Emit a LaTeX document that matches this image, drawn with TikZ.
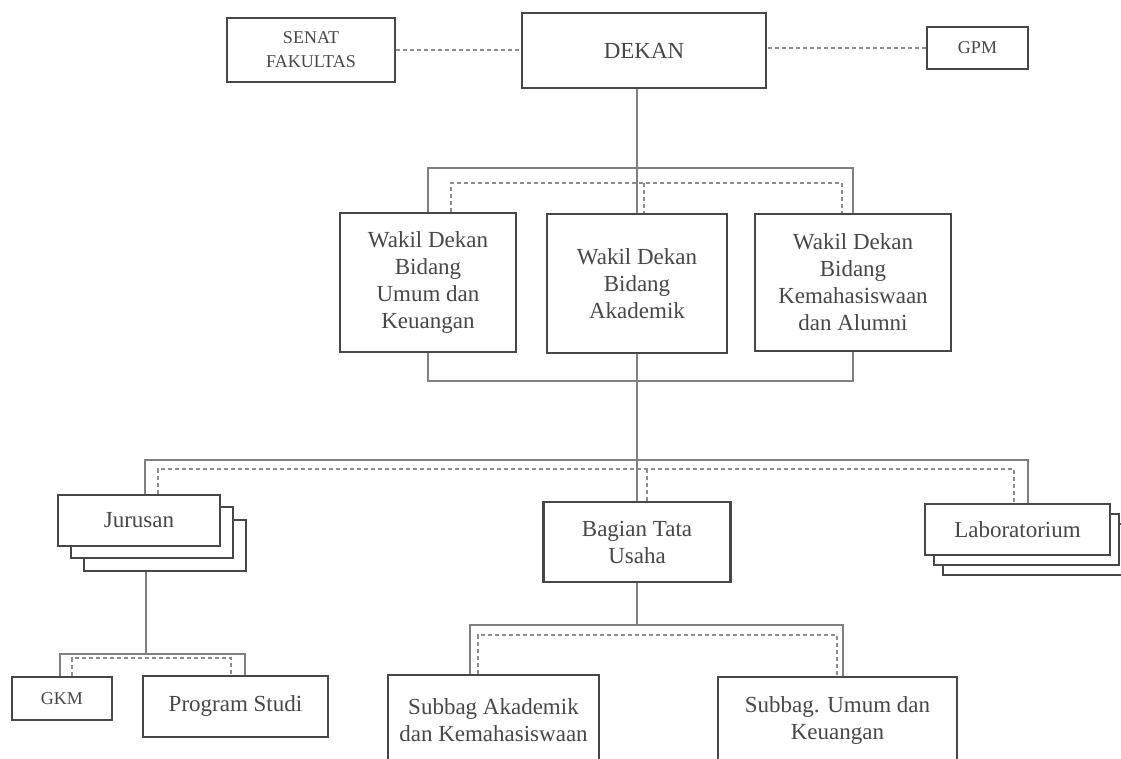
\documentclass[tikz,border=0pt]{standalone}
\usepackage{fontspec}
\setmainfont{Liberation Serif}

\begin{document}
\begin{tikzpicture}[
    x=0.5pt, y=-0.5pt,
    unit/.style={
      draw=black!72,
      line width=1.1pt,
      fill=white,
      align=center,
      inner sep=1pt,
      text=black!72,
      font=\fontsize{11.5}{13.5}\selectfont,
    },
    small/.style={font=\fontsize{9}{12}\selectfont},
    link/.style={draw=black!50, line width=0.8pt},
    dlink/.style={draw=black!45, line width=0.6pt, dash pattern=on 2pt off 1.5pt},
  ]
  \useasboundingbox (0,0) rectangle (1121,759);
  \clip (0,0) rectangle (1121,759);

  \node[unit, small, minimum width=84pt, minimum height=32pt] (senat) at (311,50) {SENAT\\FAKULTAS};
  \node[unit, minimum width=122pt, minimum height=37.5pt] (dekan) at (644,50.5) {DEKAN};
  \node[unit, small, minimum width=50.5pt, minimum height=21pt] (gpm) at (977.5,48) {GPM};

  \node[unit, minimum width=88pt, minimum height=69.5pt] (wk1) at (428,282.5) {Wakil Dekan\\Bidang\\Umum dan\\Keuangan};
  \node[unit, minimum width=90pt, minimum height=69.5pt] (wk2) at (637,283.5) {Wakil Dekan\\Bidang\\Akademik};
  \node[unit, minimum width=98pt, minimum height=68.5pt] (wk3) at (853,282.5) {Wakil Dekan\\Bidang\\Kemahasiswaan\\dan Alumni};

  \node[unit, minimum width=81pt, minimum height=25.5pt] (jur3) at (165,545.5) {};
  \node[unit, minimum width=81pt, minimum height=25.5pt] (jur2) at (152,532.5) {};
  \node[unit, minimum width=81pt, minimum height=25.5pt] (jur) at (139,520.5) {Jurusan};
  \node[unit, minimum width=93.5pt, minimum height=40pt] (bagian) at (637,542) {Bagian Tata\\Usaha};
  \node[unit, minimum width=92.5pt, minimum height=25.5pt] (lab3) at (1035.5,549.5) {};
  \node[unit, minimum width=92.5pt, minimum height=25.5pt] (lab2) at (1026.5,539.5) {};
  \node[unit, minimum width=92.5pt, minimum height=25.5pt] (lab) at (1017.5,529.5) {Laboratorium};

  \node[unit, small, minimum width=50pt, minimum height=21.5pt] (gkm) at (62,698.5) {GKM};
  \node[unit, minimum width=92.5pt, minimum height=30.5pt] (prodi) at (235.5,706.5) {Program Studi};
  \node[unit, minimum width=105.5pt, minimum height=45pt] (subak) at (493.5,720) {Subbag Akademik\\dan Kemahasiswaan};
  \node[unit, minimum width=119.5pt, minimum height=44pt] (subum) at (837.5,721) {Subbag. Umum dan\\Keuangan};

  \coordinate (wtop) at (637,168);
  \coordinate (wd1) at (451,183);
  \coordinate (wd2) at (644,183);
  \coordinate (wd3) at (842,183);
  \coordinate (wbot) at (637,381);
  \coordinate (ltop) at (145,460);
  \coordinate (rtop) at (1028,460);
  \coordinate (ld1) at (158,469);
  \coordinate (ld2) at (647,469);
  \coordinate (ld3) at (1014,469);
  \coordinate (jbus) at (146,654);
  \coordinate (jl) at (60,654);
  \coordinate (jr) at (245,654);
  \coordinate (jd1) at (72,658);
  \coordinate (jd2) at (231,658);
  \coordinate (bl) at (470,625);
  \coordinate (br) at (843,625);
  \coordinate (bd1) at (478,635);
  \coordinate (bd2) at (837,635);

  \draw[dlink] (senat.east) -- (senat.east -| dekan.west);
  \draw[dlink] (gpm.west) -- (gpm.west -| dekan.east);

  \draw[link] (dekan.south -| wk2.north) -- (wk2.north);
  \draw[link] (wk1.north) |- (wtop) -| (wk3.north);
  \draw[dlink] (wd1 |- wk1.north) -- (wd1) -- (wd3) -- (wd3 |- wk3.north);
  \draw[dlink] (wd2) -- (wd2 |- wk2.north);
  \draw[link] (wk1.south) |- (wbot) -| (wk3.south);
  \draw[link] (wk2.south) -- (wk2.south |- bagian.north);

  \draw[link] (ltop |- jur.north) -- (ltop) -- (rtop) -- (rtop |- lab.north);
  \draw[dlink] (ld1 |- jur.north) -- (ld1) -- (ld3) -- (ld3 |- lab.north);
  \draw[dlink] (ld2) -- (ld2 |- bagian.north);

  \draw[link] (jbus |- jur3.south) -- (jbus);
  \draw[link] (jl |- gkm.north) -- (jl) -- (jr) -- (jr |- prodi.north);
  \draw[dlink] (jd1 |- gkm.north) -- (jd1) -- (jd2) -- (jd2 |- prodi.north);

  \draw[link] (bagian.south) -- (bagian.south |- bl);
  \draw[link] (bl |- subak.north) -- (bl) -- (br) -- (br |- subum.north);
  \draw[dlink] (bd1 |- subak.north) -- (bd1) -- (bd2) -- (bd2 |- subum.north);
\end{tikzpicture}
\end{document}
